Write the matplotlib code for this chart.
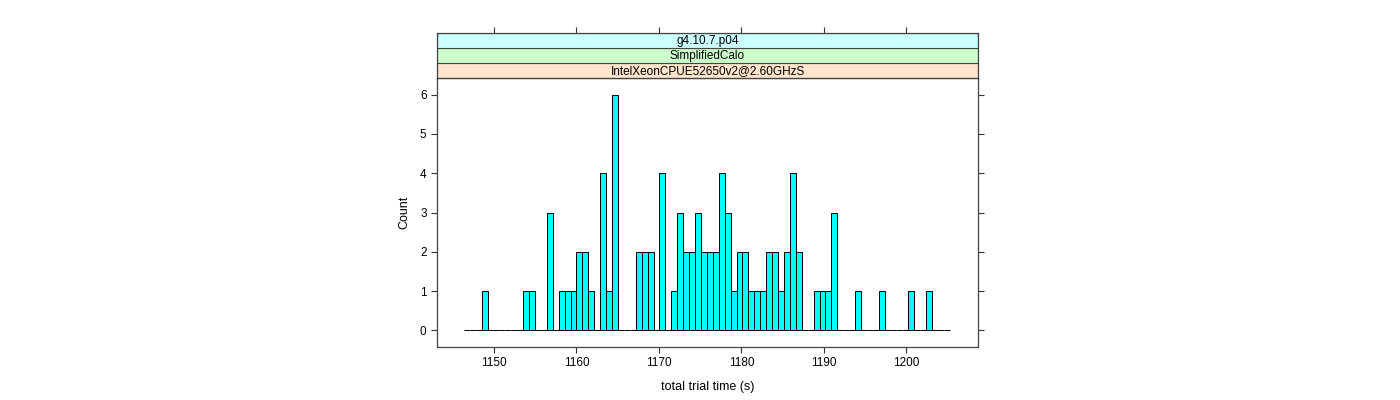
import matplotlib
matplotlib.use("Agg")
import matplotlib.pyplot as plt
from matplotlib.patches import Rectangle
import numpy as np

plt.rcParams['font.family'] = ['Liberation Sans', 'DejaVu Sans']

# histogram: 82 equal bins between these edges
bin_lo = 1146.35
bin_hi = 1205.3
counts = [0, 0, 0, 1, 0, 0, 0, 0, 0, 0,
          1, 1, 0, 0, 3, 0, 1, 1, 1, 2,
          2, 1, 0, 4, 1, 6, 0, 0, 0, 2,
          2, 2, 0, 4, 0, 1, 3, 2, 2, 3,
          2, 2, 2, 4, 3, 1, 2, 2, 1, 1,
          1, 2, 2, 1, 2, 4, 2, 0, 0, 1,
          1, 1, 3, 0, 0, 0, 1, 0, 0, 0,
          1, 0, 0, 0, 0, 1, 0, 0, 1, 0,
          0, 0]

strip_labels = ["IntelXeonCPUE52650v2@2.60GHzS", "SimplifiedCalo", "g4.10.7.p04"]
strip_colors = ["#ffe5cc", "#ccffcc", "#ccffff"]

x_ticks = [1150, 1160, 1170, 1180, 1190, 1200]
y_ticks = [0, 1, 2, 3, 4, 5, 6]

edges = np.linspace(bin_lo, bin_hi, len(counts) + 1)
width = edges[1] - edges[0]

fig = plt.figure(figsize=(14, 4), dpi=100)
fig.set_facecolor('white')

W, H = 1400.0, 400.0
left, right = 437, 978
top, bottom = 78, 347
strip_top = 33

ax = fig.add_axes([left / W, 1 - bottom / H, (right - left) / W, (bottom - top) / H])
sax = fig.add_axes([left / W, 1 - top / H, (right - left) / W, (top - strip_top) / H], sharex=ax)

ax.bar(edges[:-1], counts, width=width, align='edge', color='#00ffff',
       edgecolor='black', linewidth=0.7)

ax.set_xlim(1143.1, 1208.7)
ax.set_ylim(-0.42, 6.42)
ax.set_xticks(x_ticks)
ax.set_yticks(y_ticks)
ax.tick_params(axis='both', direction='out', length=4, width=0.8, color='#333333',
               labelsize=8.5, pad=3.5)
ax.tick_params(axis='y', right=True, labelright=False)
ax.tick_params(axis='x', top=False)
for sp in ax.spines.values():
    sp.set_color('#444444')
    sp.set_linewidth(0.9)

ax.set_xlabel("total trial time (s)", fontsize=9, labelpad=8)
ax.set_ylabel("Count", fontsize=9, labelpad=7)

# strips
n = len(strip_labels)
for i, (lab, col) in enumerate(zip(strip_labels, strip_colors)):
    sax.add_patch(Rectangle((0, i / n), 1, 1 / n, transform=sax.transAxes,
                            facecolor=col, edgecolor='#444444', linewidth=0.8))
    sax.text(0.5, (i + 0.45) / n, lab, transform=sax.transAxes, ha='center',
             va='center', fontsize=8.5)
sax.set_ylim(0, 1)
sax.set_yticks([])
sax.tick_params(axis='x', bottom=False, labelbottom=False, top=True, labeltop=False,
                direction='out', length=4, width=0.8, color='#333333')
for sp in sax.spines.values():
    sp.set_color('#444444')
    sp.set_linewidth(0.9)

fig.savefig("out.png", dpi=100, facecolor='white')
